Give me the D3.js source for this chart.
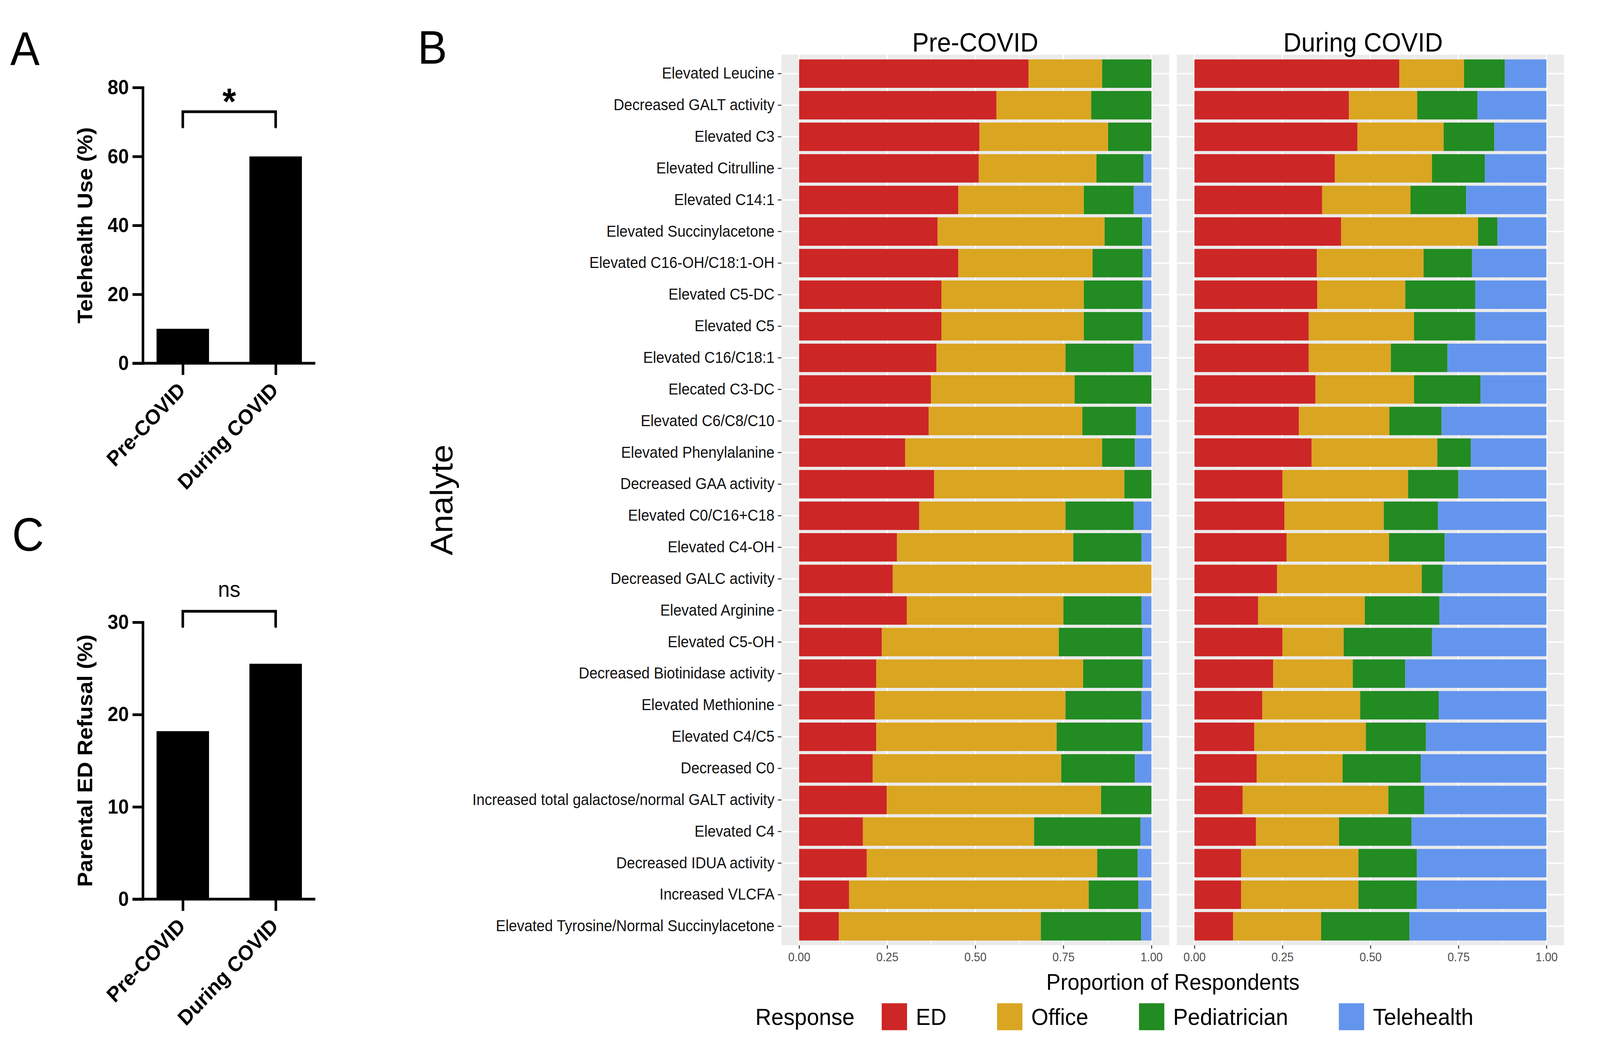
<!DOCTYPE html>
<html>
<head>
<meta charset="utf-8">
<script src="https://cdn.jsdelivr.net/npm/d3@7"></script>
<style>
  html, body { margin: 0; padding: 0; background: #fff; overflow: hidden; }
  text { font-family: "Liberation Sans", Arial, Helvetica, sans-serif; }
</style>
</head>
<body>
<div id="chart-area"></div>
<script>
// ---- data ----
let periods = ["Pre-COVID", "During COVID"]
let telehealthUse = [10, 60]
let edRefusal = [18.2, 25.5]
let telehealthTicks = [0, 20, 40, 60, 80]
let refusalTicks = [0, 10, 20, 30]

let analytes = [
  "Elevated Leucine", "Decreased GALT activity", "Elevated C3", "Elevated Citrulline",
  "Elevated C14:1", "Elevated Succinylacetone", "Elevated C16-OH/C18:1-OH", "Elevated C5-DC",
  "Elevated C5", "Elevated C16/C18:1", "Elecated C3-DC", "Elevated C6/C8/C10",
  "Elevated Phenylalanine", "Decreased GAA activity", "Elevated C0/C16+C18", "Elevated C4-OH",
  "Decreased GALC activity", "Elevated Arginine", "Elevated C5-OH", "Decreased Biotinidase activity",
  "Elevated Methionine", "Elevated C4/C5", "Decreased C0", "Increased total galactose/normal GALT activity",
  "Elevated C4", "Decreased IDUA activity", "Increased VLCFA", "Elevated Tyrosine/Normal Succinylacetone"
]

let responses = ["ED", "Office", "Pediatrician", "Telehealth"]
let responseColors = ["#CD2626", "#DAA520", "#228B22", "#6495ED"]

let preED     = [.651, .560, .512, .510, .452, .393, .452, .404, .404, .390, .374, .368, .301, .383, .341, .278, .266, .306, .235, .219, .215, .219, .209, .249, .181, .192, .142, .113]
let preOffice = [.209, .269, .365, .334, .356, .474, .381, .404, .404, .366, .408, .436, .559, .540, .415, .500, .734, .444, .502, .587, .541, .512, .535, .608, .486, .654, .680, .573]
let prePed    = [.140, .171, .123, .133, .142, .107, .142, .167, .167, .194, .218, .152, .093, .077, .194, .194, 0, .222, .237, .169, .216, .244, .209, .143, .302, .115, .141, .285]
let preTele   = [0, 0, 0, .023, .050, .026, .025, .025, .025, .050, 0, .044, .047, 0, .050, .028, 0, .028, .026, .025, .028, .025, .047, 0, .031, .039, .037, .029]

let durED     = [.582, .439, .463, .399, .363, .417, .348, .349, .325, .325, .344, .297, .333, .250, .256, .262, .235, .181, .250, .224, .193, .170, .177, .137, .175, .133, .133, .110]
let durOffice = [.184, .194, .245, .276, .251, .389, .303, .250, .299, .233, .280, .257, .357, .357, .282, .291, .411, .303, .174, .226, .278, .317, .244, .414, .236, .333, .333, .250]
let durPed    = [.116, .171, .144, .150, .158, .055, .138, .199, .174, .161, .189, .148, .095, .143, .154, .158, .059, .212, .251, .149, .223, .171, .222, .102, .206, .166, .166, .251]
let durTele   = [.118, .196, .148, .175, .228, .139, .211, .202, .202, .281, .187, .298, .215, .250, .308, .289, .295, .304, .325, .401, .306, .342, .357, .347, .383, .368, .368, .389]

let proportionTicks = [0, 0.25, 0.5, 0.75, 1]
let proportionMinor = [0.125, 0.375, 0.625, 0.875]

// ---- canvas ----
// the window may come out narrower than 4359, so the drawing is laid out
// in 4359x2701 units and stretched to whatever viewport we get
let svg = d3.select("#chart-area").append("svg")
  .attr("viewBox", "0 0 4359 2701")
  .attr("preserveAspectRatio", "none")
  .style("width", "100vw")
  .style("height", "100vh")
  .style("display", "block")

svg.append("rect").attr("width", 4359).attr("height", 2701).attr("fill", "#fff")

// panel letters
let letters = [["A", 28, 166], ["B", 1138, 163], ["C", 33, 1410]]
letters.forEach(l => {
  svg.append("text").attr("x", l[1]).attr("y", l[2])
    .attr("font-size", 120).attr("fill", "#000").text(l[0])
})

// ---- panels A and C (simple bar charts) ----
function barPanel(cfg) {
  let g = svg.append("g").attr("font-weight", "bold")
  let y = d3.scaleLinear().domain([0, cfg.max]).range([cfg.bottom, cfg.top])
  let x = d3.scalePoint().domain(periods).range([498, 751])

  g.selectAll("rect").data(cfg.values).enter()
    .append("rect")
      .attr("x", (d, i) => x(periods[i]) - 71.5)
      .attr("width", 143)
      .attr("y", d => y(d))
      .attr("height", d => cfg.bottom - y(d))
      .attr("fill", "#000")

  // x axis line + ticks
  g.append("line").attr("x1", 361).attr("x2", 859)
    .attr("y1", cfg.bottom).attr("y2", cfg.bottom)
    .attr("stroke", "#000").attr("stroke-width", 7)

  let xAxisCall = d3.axisBottom(x).tickSize(30).tickSizeOuter(0).tickFormat("")
  let xg = g.append("g").attr("transform", "translate(0," + cfg.bottom + ")").call(xAxisCall)
  xg.select(".domain").remove()
  xg.selectAll("line").attr("stroke", "#000").attr("stroke-width", 7)

  // rotated category labels
  g.selectAll(".xlab").data(periods).enter()
    .append("text")
      .attr("class", "xlab")
      .attr("text-anchor", "end")
      .attr("font-size", 54)
      .attr("transform", d => "translate(" + (x(d) + 10) + "," + (cfg.bottom + 72) + ") rotate(-45)")
      .text(d => d)

  // y axis
  let yAxisCall = d3.axisLeft(y).tickValues(cfg.ticks).tickSize(28).tickSizeOuter(0).tickPadding(10)
  let yg = g.append("g").attr("transform", "translate(389,0)").call(yAxisCall)
  yg.select(".domain").attr("stroke", "#000").attr("stroke-width", 7).attr("stroke-linecap", "square")
  yg.selectAll("line").attr("stroke", "#000").attr("stroke-width", 7)
  yg.selectAll("text").attr("font-size", 52).attr("font-family", "Liberation Sans, Arial, sans-serif")
    .attr("font-weight", "bold").attr("fill", "#000")

  // y title
  g.append("text")
    .attr("transform", "translate(251," + ((cfg.top + cfg.bottom) / 2) + ") rotate(-90)")
    .attr("text-anchor", "middle")
    .attr("font-size", 57)
    .text(cfg.title)

  // significance bracket
  g.append("path")
    .attr("d", "M" + x(periods[0]) + "," + (cfg.bracketY + 39) + "V" + cfg.bracketY + "H" + x(periods[1]) + "V" + (cfg.bracketY + 39))
    .attr("fill", "none").attr("stroke", "#000").attr("stroke-width", 7)
    .attr("stroke-linecap", "round").attr("stroke-linejoin", "miter")

  g.append("text")
    .attr("x", (x(periods[0]) + x(periods[1])) / 2)
    .attr("y", cfg.markY)
    .attr("text-anchor", "middle")
    .attr("font-size", cfg.markSize)
    .attr("font-weight", cfg.markWeight)
    .text(cfg.mark)
}

barPanel({values: telehealthUse, max: 80, ticks: telehealthTicks, top: 224, bottom: 930,
  title: "Telehealth Use (%)", bracketY: 286, mark: "*", markY: 292, markSize: 95, markWeight: "bold"})
barPanel({values: edRefusal, max: 30, ticks: refusalTicks, top: 1593, bottom: 2302,
  title: "Parental ED Refusal (%)", bracketY: 1565, mark: "ns", markY: 1528, markSize: 58, markWeight: "normal"})

// ---- panel B (stacked proportions, two facets) ----
let panelTop = 140, panelBottom = 2420

let y = d3.scaleBand()
  .domain(analytes)
  .range([panelTop, panelBottom])
  .paddingInner(0.1)
  .paddingOuter(0.15)

let facets = [
  {title: periods[0], range: [2177, 3137], titleShift: 0, series: [preED, preOffice, prePed, preTele]},
  {title: periods[1], range: [3254, 4213], titleShift: -20, series: [durED, durOffice, durPed, durTele]}
]

facets.forEach((facet, fi) => {
  let x = d3.scaleLinear().domain([0, 1]).range(facet.range)
  let g = svg.append("g")

  g.append("rect")
    .attr("x", x(-0.05)).attr("y", panelTop)
    .attr("width", x(1.05) - x(-0.05)).attr("height", panelBottom - panelTop)
    .attr("fill", "#EBEBEB")

  g.selectAll(".minor").data(proportionMinor).enter()
    .append("line")
      .attr("x1", d => x(d)).attr("x2", d => x(d))
      .attr("y1", panelTop).attr("y2", panelBottom)
      .attr("stroke", "#fff").attr("stroke-width", 1.8)

  g.selectAll(".vmajor").data(proportionTicks).enter()
    .append("line")
      .attr("x1", d => x(d)).attr("x2", d => x(d))
      .attr("y1", panelTop).attr("y2", panelBottom)
      .attr("stroke", "#fff").attr("stroke-width", 3.6)

  g.selectAll(".hmajor").data(analytes).enter()
    .append("line")
      .attr("x1", x(-0.05)).attr("x2", x(1.05))
      .attr("y1", d => y(d) + y.bandwidth() / 2).attr("y2", d => y(d) + y.bandwidth() / 2)
      .attr("stroke", "#fff").attr("stroke-width", 3.6)

  let rows = analytes.map((a, i) => {
    let row = {analyte: a}
    responses.forEach((k, j) => { row[k] = facet.series[j][i] })
    return row
  })
  let stacked = d3.stack().keys(responses)(rows)

  g.selectAll(".layer").data(stacked).enter()
    .append("g")
      .attr("fill", (d, i) => responseColors[i])
    .selectAll("rect").data(d => d).enter()
    .append("rect")
      .attr("x", d => x(d[0]))
      .attr("width", d => x(d[1]) - x(d[0]))
      .attr("y", d => y(d.data.analyte))
      .attr("height", y.bandwidth())

  let xAxisCall = d3.axisBottom(x).tickValues(proportionTicks).tickFormat(d3.format(".2f"))
    .tickSize(9).tickPadding(10)
  let xg = g.append("g").attr("transform", "translate(0," + panelBottom + ")").call(xAxisCall)
  xg.select(".domain").remove()
  xg.selectAll("line").attr("stroke", "#333").attr("stroke-width", 2.5)
  xg.selectAll("text").attr("font-size", 31).attr("fill", "#4D4D4D")
    .attr("font-family", "Liberation Sans, Arial, sans-serif")

  // facet title
  g.append("text")
    .attr("x", (x(-0.05) + x(1.05)) / 2 + facet.titleShift)
    .attr("y", 132)
    .attr("text-anchor", "middle")
    .attr("font-size", 68)
    .text(facet.title)

  if (fi === 0) {
    let yAxisCall = d3.axisLeft(y).tickSize(10).tickPadding(9)
    let yg = g.append("g").attr("transform", "translate(" + x(-0.05) + ",0)").call(yAxisCall)
    yg.select(".domain").remove()
    yg.selectAll("line").attr("stroke", "#333").attr("stroke-width", 2.5)
    yg.selectAll("text").attr("font-size", 40).attr("fill", "#111")
      .attr("font-family", "Liberation Sans, Arial, sans-serif")
  }
})

// axis titles
svg.append("text")
  .attr("transform", "translate(1232," + ((panelTop + panelBottom) / 2) + ") rotate(-90)")
  .attr("text-anchor", "middle")
  .attr("font-size", 85)
  .text("Analyte")

svg.append("text")
  .attr("x", (2129 + 4262) / 2)
  .attr("y", 2534)
  .attr("text-anchor", "middle")
  .attr("font-size", 58)
  .text("Proportion of Respondents")

// legend
let legend = svg.append("g").attr("transform", "translate(2058,2603)")
let title = legend.append("text").attr("y", 21).attr("font-size", 60).text("Response")
let cursor = title.node().getComputedTextLength() + 74
responses.forEach((r, i) => {
  legend.append("rect")
    .attr("x", cursor).attr("y", -34.5)
    .attr("width", 69).attr("height", 69)
    .attr("fill", responseColors[i])
  let label = legend.append("text")
    .attr("x", cursor + 93).attr("y", 21)
    .attr("font-size", 60)
    .text(r)
  cursor += 93 + label.node().getComputedTextLength() + 138
})
</script>
</body>
</html>
